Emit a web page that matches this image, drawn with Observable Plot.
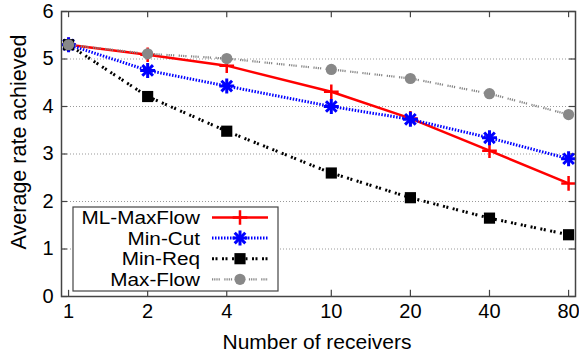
<!DOCTYPE html>
<html>
<head>
<meta charset="utf-8">
<script src="https://cdn.jsdelivr.net/npm/d3@7"></script>
<script src="https://cdn.jsdelivr.net/npm/@observablehq/plot@0.6"></script>
<style>
  html, body { margin: 0; padding: 0; background: #fff; }
  #chart svg { display: block; }
</style>
</head>
<body>
<div id="chart"></div>
<script>
const receivers = [1, 2, 4, 10, 20, 40, 80];
const xTickLabels = ["1", "2", "4", "10", "20", "40", "80"];
const yTicks = [0, 1, 2, 3, 4, 5, 6];
const seriesNames = ["ML-MaxFlow", "Min-Cut", "Min-Req", "Max-Flow"];
const mlMaxFlow = [5.3, 5.09, 4.86, 4.31, 3.75, 3.07, 2.38];
const minCut    = [5.3, 4.76, 4.43, 4.0, 3.73, 3.34, 2.9];
const minReq    = [5.3, 4.21, 3.48, 2.6, 2.08, 1.65, 1.3];
const maxFlow   = [5.3, 5.11, 5.01, 4.78, 4.59, 4.27, 3.83];

const styles = {
  "ML-MaxFlow": {stroke: "#ff0000", width: 2.5, dash: null, symbols: ["plus"], r: 4.8, fill: "none", sw: 2.5},
  "Min-Cut":    {stroke: "#0000ff", width: 3, dash: "1.5,1.5", symbols: ["plus", "times"], r: 4.9, fill: "none", sw: 3},
  "Min-Req":    {stroke: "#000000", width: 3, dash: "2,1.5,2,4.5", symbols: ["square"], r: 6.3, fill: "#000", sw: 0},
  "Max-Flow":   {stroke: "#858585", width: 2.2, dash: "1.2,1,1.2,1,1.2,1,1.2,4.5", symbols: ["circle"], r: 5.6, fill: "#888", sw: 0}
};

const valuesBy = {"ML-MaxFlow": mlMaxFlow, "Min-Cut": minCut, "Min-Req": minReq, "Max-Flow": maxFlow};
const data = seriesNames.flatMap(s => receivers.map((n, i) => ({series: s, n, v: valuesBy[s][i]})));
const xLabelData = receivers.map((n, i) => ({n, label: xTickLabels[i]}));

const xDomain = [0.94, 85];
const tickLog = 6 / 79; // log2 units for tick length
const font = "'Liberation Sans', Arial, sans-serif";

const marks = [
  Plot.ruleY([1, 2, 3, 4, 5], {y: d => d, stroke: "#999", strokeWidth: 1, strokeDasharray: "1,2"}),
  // inward ticks
  Plot.ruleX(receivers, {x: d => d, y1: 0, y2: 0.13, stroke: "#444", strokeWidth: 1.2}),
  Plot.ruleX(receivers, {x: d => d, y1: 6, y2: 5.87, stroke: "#444", strokeWidth: 1.2}),
  Plot.ruleY(yTicks, {y: d => d, x1: xDomain[0], x2: xDomain[0] * Math.pow(2, tickLog), stroke: "#444", strokeWidth: 1.2}),
  Plot.ruleY(yTicks, {y: d => d, x1: xDomain[1], x2: xDomain[1] / Math.pow(2, tickLog), stroke: "#444", strokeWidth: 1.2}),
  Plot.text(xLabelData, {x: "n", frameAnchor: "bottom", dy: 21, text: "label", fontSize: 20, fill: "#000"}),
  Plot.axisY({ticks: yTicks, tickSize: 0, tickPadding: 8, fontSize: 20, tickFormat: d => String(d), label: null})
];
for (const s of seriesNames) {
  const st = styles[s];
  const sd = data.filter(d => d.series === s);
  marks.push(Plot.line(sd, {x: "n", y: "v", stroke: st.stroke, strokeWidth: st.width, strokeDasharray: st.dash, strokeLinecap: "butt", strokeLinejoin: "miter"}));
  for (const sym of st.symbols) {
    marks.push(Plot.dot(sd, {x: "n", y: "v", symbol: sym, r: st.r,
      fill: st.fill === "none" ? "none" : st.fill,
      stroke: st.fill === "none" ? st.stroke : "none", strokeWidth: st.sw, strokeLinecap: "butt"}));
  }
}
marks.push(Plot.frame({stroke: "#444", strokeWidth: 1.5}));

const chart = Plot.plot({
  width: 579,
  height: 358,
  marginLeft: 61,
  marginRight: 4,
  marginTop: 11,
  marginBottom: 62,
  style: {fontFamily: font, background: "#fff", color: "#000"},
  x: {type: "log", domain: xDomain, axis: null},
  y: {domain: [0, 6]},
  marks
});

document.getElementById("chart").appendChild(chart);

// titles and legend
const svg = d3.select(chart);
svg.append("text").attr("x", 317).attr("y", 349).attr("text-anchor", "middle")
  .attr("font-family", font).attr("font-size", 21).attr("fill", "#000").text("Number of receivers");
svg.append("text").attr("transform", "translate(26,142) rotate(-90)").attr("text-anchor", "middle")
  .attr("font-family", font).attr("font-size", 21.5).attr("fill", "#000").text("Average rate achieved");

const lg = svg.append("g");
lg.append("rect").attr("x", 73).attr("y", 207).attr("width", 205).attr("height", 84)
  .attr("fill", "#fff").attr("stroke", "#444").attr("stroke-width", 1.2);
const symMap = {plus: d3.symbolPlus, times: d3.symbolTimes, square: d3.symbolSquare, circle: d3.symbolCircle};
seriesNames.forEach((s, i) => {
  const st = styles[s];
  const y = 217.5 + i * 20.6;
  lg.append("text").attr("transform", `translate(200,${y}) scale(1.12,1)`).attr("dy", "0.36em").attr("text-anchor", "end")
    .attr("font-family", font).attr("font-size", 18.5).attr("fill", "#000").text(s);
  lg.append("line").attr("x1", 212).attr("x2", 268).attr("y1", y).attr("y2", y)
    .attr("stroke", st.stroke).attr("stroke-width", st.width).attr("stroke-dasharray", st.dash);
  for (const sym of st.symbols) {
    const size = Math.PI * st.r * st.r;
    lg.append("path").attr("transform", `translate(240,${y})`)
      .attr("d", d3.symbol(symMap[sym], size)())
      .attr("fill", st.fill).attr("stroke", st.fill === "none" ? st.stroke : "none").attr("stroke-width", st.sw);
  }
});
</script>
</body>
</html>
